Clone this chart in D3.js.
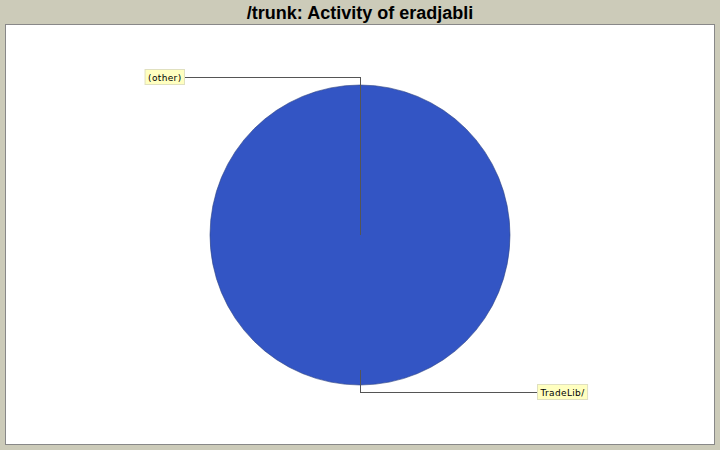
<!DOCTYPE html>
<html><head><meta charset="utf-8">
<script src="https://cdn.jsdelivr.net/npm/d3@7"></script>
<style>body{margin:0;background:#cccbb9}</style>
</head><body>
<script>
const title = "/trunk: Activity of eradjabli";
const categories = ["(other)", "TradeLib/"];
const values = [0, 100];
const colors = ["#3355c4", "#3355c4"];

const W = 720, H = 450;
const svg = d3.select("body").append("svg").attr("width", W).attr("height", H);
svg.append("rect").attr("width", W).attr("height", H).attr("fill", "#cccbb9");
svg.append("text").attr("x", W/2).attr("y", 19).attr("text-anchor", "middle")
  .attr("font-family", "Liberation Sans, Arial, sans-serif").attr("font-weight", "bold")
  .attr("font-size", 18).attr("fill", "#000").text(title);
// plot area
svg.append("rect").attr("x", 5.5).attr("y", 24.5).attr("width", 709).attr("height", 420)
  .attr("fill", "#fff").attr("stroke", "#888").attr("stroke-width", 1);

const cx = 360, cy = 235, r = 150;
const g = svg.append("g").attr("transform", `translate(${cx},${cy})`);
const pie = d3.pie().sort(null).value(d => d.v);
const data = pie(categories.map((c, i) => ({c, v: values[i], i})));
const arc = d3.arc().innerRadius(0).outerRadius(r);
g.selectAll("path.slice").data(data.filter(d => d.value > 0)).join("path")
  .attr("d", arc).attr("fill", d => colors[d.data.i])
  .attr("stroke", "#2a3f80").attr("stroke-width", 0.6);

// labels
const labelPos = {
  "(other)": {lx: 184, ly: 77, side: "left"},
  "TradeLib/": {lx: 537, ly: 392, side: "right"}
};
data.forEach(d => {
  const mid = (d.startAngle + d.endAngle) / 2;
  const p = labelPos[d.data.c];
  const inner = d.value > 0 ? r * 0.9 : 0;
  const ax = cx + 0.5 + Math.sin(mid) * inner, ay = cy - Math.cos(mid) * inner;
  const ey = p.ly;
  svg.append("polyline")
    .attr("points", `${ax},${ay} ${cx + 0.5},${ey + 0.5} ${p.lx},${ey + 0.5}`)
    .attr("fill", "none").attr("stroke", "#555").attr("stroke-width", 1)
    .attr("shape-rendering", "crispEdges");
  const t = svg.append("text").attr("font-family", "DejaVu Sans, Verdana, sans-serif")
    .attr("font-size", 9).attr("letter-spacing", 0.35).attr("fill", "#000").text(d.data.c);
  const bw = t.node().getComputedTextLength() + 6;
  const bx = p.side === "left" ? p.lx - bw : p.lx;
  svg.insert("rect", "text:last-of-type").attr("x", bx + 0.5).attr("y", p.ly - 7.5)
    .attr("width", bw).attr("height", 15).attr("fill", "#ffffc0").attr("stroke", "#e0e0c0");
  t.attr("x", bx + 3.5).attr("y", p.ly + 3.5);
  t.raise();
});
</script>
</body></html>
